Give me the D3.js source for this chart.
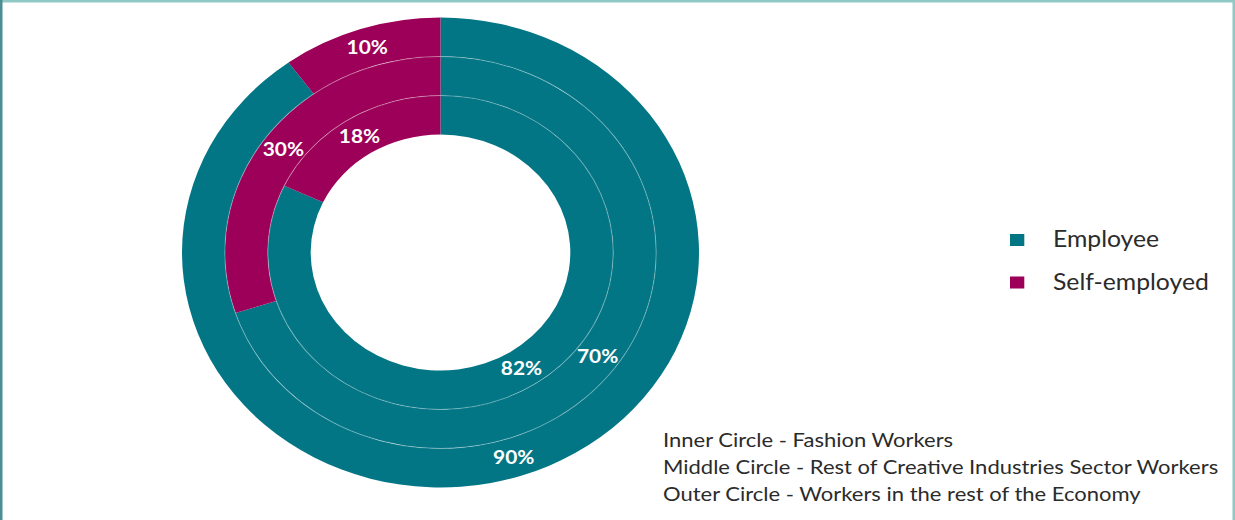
<!DOCTYPE html>
<html>
<head>
<meta charset="utf-8">
<script src="https://cdn.jsdelivr.net/npm/d3@7"></script>
<style>
  html, body { margin: 0; padding: 0; background: #ffffff; }
  svg { display: block; }
  text { font-family: Lato, "Open Sans", sans-serif; }
</style>
</head>
<body>
<svg id="chart" width="1235" height="520"></svg>
<script>
// Worker groups, innermost ring first
const rings = ["Fashion Workers", "Rest of Creative Industries Sector Workers", "Workers in the rest of the Economy"];
// Share of each group (%)
const employee = [82, 70, 90];
const selfEmployed = [18, 30, 10];
const seriesNames = ["Employee", "Self-employed"];
const seriesColors = ["#037686", "#9c0058"];
const notes = [
  "Inner Circle - Fashion Workers",
  "Middle Circle - Rest of Creative Industries Sector Workers",
  "Outer Circle - Workers in the rest of the Economy"
];

const W = 1235, H = 520;
const SX = 1.1;               // the whole figure is drawn slightly wide
const svg = d3.select("#chart");

// frame
svg.append("rect").attr("x", 0).attr("y", 0).attr("width", W).attr("height", 2.5).attr("fill", "#8fc8c4");
svg.append("rect").attr("x", 0).attr("y", 0).attr("width", 2.5).attr("height", H).attr("fill", "#4a8d93");
svg.append("rect").attr("x", W - 2.5).attr("y", 0).attr("width", 2.5).attr("height", H).attr("fill", "#8fc8c4");

const root = svg.append("g").attr("transform", `scale(${SX},1)`);

// ring radii: ring i spans radius(i) .. radius(i+1)
const radius = d3.scaleLinear().domain([0, rings.length]).range([118, 235]);
const color = d3.scaleOrdinal().domain(seriesNames).range(seriesColors);

const cx = 440.5 / SX, cy = 252.5;
const donut = root.append("g").attr("transform", `translate(${cx},${cy})`);

const pie = d3.pie().sort(null).value(d => d.value);

rings.forEach((name, i) => {
  const data = [
    { key: seriesNames[0], value: employee[i] },
    { key: seriesNames[1], value: selfEmployed[i] }
  ];
  const arc = d3.arc().innerRadius(radius(i)).outerRadius(radius(i + 1));
  const g = donut.append("g").attr("class", "ring");
  const arcs = pie(data);
  g.selectAll("path").data(arcs).join("path")
    .attr("d", arc)
    .attr("fill", d => color(d.data.key));
  g.selectAll("text").data(arcs).join("text")
    .attr("transform", d => `translate(${arc.centroid(d)})`)
    .attr("text-anchor", "middle")
    .attr("dy", "0.36em")
    .attr("fill", "#ffffff")
    .attr("font-weight", 700)
    .attr("font-size", 19)
    .text(d => d.data.value + "%");
});

// faint separators between the rings
donut.selectAll("circle.sep").data(d3.range(1, rings.length)).join("circle")
  .attr("class", "sep")
  .attr("r", d => radius(d))
  .attr("fill", "none")
  .attr("stroke", "#ffffff")
  .attr("stroke-opacity", 0.3)
  .attr("stroke-width", 1);

// legend
const legend = root.append("g").attr("transform", `translate(${1010 / SX},0)`);
const ly = d3.scalePoint().domain(seriesNames).range([240, 282.5]);
legend.selectAll("rect").data(seriesNames).join("rect")
  .attr("x", 0)
  .attr("y", d => ly(d) - 6)
  .attr("width", 13)
  .attr("height", 12)
  .attr("fill", d => color(d));
legend.selectAll("text").data(seriesNames).join("text")
  .attr("x", 43 / SX)
  .attr("y", d => ly(d))
  .attr("dy", "0.33em")
  .attr("font-size", 22.5)
  .attr("fill", "#2b2b2b")
  .text(d => d);

// ring key
root.append("g").selectAll("text").data(notes).join("text")
  .attr("x", 663 / SX)
  .attr("y", (d, i) => 447 + i * 27)
  .attr("font-size", 20)
  .attr("fill", "#2b2b2b")
  .text(d => d);
</script>
</body>
</html>
